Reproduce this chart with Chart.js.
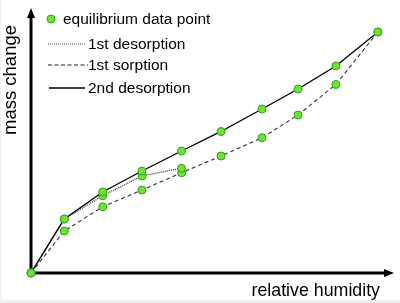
<!DOCTYPE html>
<html>
<head>
<meta charset="utf-8">
<script src="https://cdn.jsdelivr.net/npm/chart.js@4"></script>
<style>
    html, body { margin: 0; padding: 0; background: #fff; }
    #contenedor { width: 400px; height: 303px; }
</style>
</head>
<body>
<div id="contenedor"><canvas id="graficaIsoterma" width="400" height="303"></canvas></div>
<script>
// humedad relativa (eje x, unidades arbitrarias 0-100)
const humedad = [0, 9.5, 20.5, 31.7, 43, 54.3, 66, 76.3, 87.1, 99.1];
// cambio de masa (eje y, unidades arbitrarias 0-100)
const segundaDesorcion = [0, 21.6, 32.4, 40.8, 48.8, 56.6, 65.6, 73.6, 82.8, 96.4];
const primeraSorcion = [0, 16.8, 26.5, 33.2, 40.1, 46.8, 54.1, 63.2, 75.4, 96.4];
const primeraDesorcion = [0, 21.6, 30.9, 38.8, 41.9];

const etiquetasLeyenda = ['equilibrium data point', '1st desorption', '1st sorption', '2nd desorption'];
const tituloX = 'relative humidity';
const tituloY = 'mass change';

const verdePunto = '#66e830';
const bordePunto = '#3f9a22';
const fuente = '"Liberation Sans", Arial, sans-serif';

function aPuntos(xs, ys) {
    return ys.map((y, i) => ({ x: xs[i], y: y }));
}

const estiloPunto = {
    pointRadius: 4,
    pointHoverRadius: 4,
    pointBackgroundColor: verdePunto,
    pointBorderColor: bordePunto,
    pointBorderWidth: 1,
    tension: 0,
    fill: false,
    clip: false
};

const pluginEjes = {
    id: 'ejes',
    beforeDraw(chart) {
        // marco gris claro de la imagen original
        const ctx = chart.ctx;
        ctx.save();
        ctx.fillStyle = '#f1f1f1';
        ctx.fillRect(0, 0, 1, chart.height);
        ctx.fillRect(0, chart.height - 3, chart.width, 3);
        ctx.restore();
    },
    beforeDatasetsDraw(chart) {
        const ctx = chart.ctx;
        const area = chart.chartArea;
        const x0 = chart.scales.x.getPixelForValue(0);
        const y0 = chart.scales.y.getPixelForValue(0);
        const arriba = area.top - 15;
        const derecha = area.right + 13;
        ctx.save();
        ctx.strokeStyle = '#000';
        ctx.fillStyle = '#000';
        ctx.lineWidth = 3;
        ctx.beginPath();
        ctx.moveTo(x0, y0 + 1.5);
        ctx.lineTo(x0, arriba + 8);
        ctx.moveTo(x0 - 1.5, y0);
        ctx.lineTo(derecha - 8, y0);
        ctx.stroke();
        // puntas de flecha
        ctx.beginPath();
        ctx.moveTo(x0, arriba);
        ctx.lineTo(x0 - 4, arriba + 10);
        ctx.lineTo(x0 + 4, arriba + 10);
        ctx.closePath();
        ctx.fill();
        ctx.beginPath();
        ctx.moveTo(derecha, y0);
        ctx.lineTo(derecha - 10, y0 - 4);
        ctx.lineTo(derecha - 10, y0 + 4);
        ctx.closePath();
        ctx.fill();
        ctx.restore();
    },
    afterDraw(chart) {
        const ctx = chart.ctx;
        const area = chart.chartArea;
        ctx.save();
        ctx.fillStyle = '#000';
        // titulos de los ejes
        ctx.font = '17.8px ' + fuente;
        ctx.textBaseline = 'alphabetic';
        ctx.textAlign = 'right';
        ctx.fillText(tituloX, area.right - 1, 296);
        ctx.translate(16, 80);
        ctx.rotate(-Math.PI / 2);
        ctx.textAlign = 'center';
        ctx.font = '18.5px ' + fuente;
        ctx.fillText(tituloY, 0, 0);
        ctx.restore();

        // leyenda
        ctx.save();
        ctx.font = '15.5px ' + fuente;
        ctx.textBaseline = 'middle';
        ctx.textAlign = 'left';
        ctx.beginPath();
        ctx.arc(51, 19, 4, 0, Math.PI * 2);
        ctx.fillStyle = verdePunto;
        ctx.fill();
        ctx.strokeStyle = bordePunto;
        ctx.lineWidth = 1;
        ctx.stroke();
        ctx.fillStyle = '#000';
        ctx.fillText(etiquetasLeyenda[0], 63, 20);

        const filas = [
            { y: 44, dash: [1, 1], color: '#444', ancho: 1.2, x1: 48, x2: 85 },
            { y: 65, dash: [4, 2.5], color: '#222', ancho: 1.2, x1: 48, x2: 88 },
            { y: 88, dash: [], color: '#000', ancho: 1.3, x1: 49, x2: 85 }
        ];
        filas.forEach((f, i) => {
            ctx.beginPath();
            ctx.setLineDash(f.dash);
            ctx.strokeStyle = f.color;
            ctx.lineWidth = f.ancho;
            ctx.moveTo(f.x1, f.y);
            ctx.lineTo(f.x2, f.y);
            ctx.stroke();
            ctx.setLineDash([]);
            ctx.fillText(etiquetasLeyenda[i + 1], 88, f.y + 1);
        });
        ctx.restore();
    }
};

function initChart() {
    const ctx = document.getElementById('graficaIsoterma').getContext('2d');
    new Chart(ctx, {
        type: 'line',
        data: {
            datasets: [
                Object.assign({
                    label: etiquetasLeyenda[3],
                    data: aPuntos(humedad, segundaDesorcion),
                    borderColor: '#000',
                    borderWidth: 1.4
                }, estiloPunto),
                Object.assign({
                    label: etiquetasLeyenda[1],
                    data: aPuntos(humedad, primeraDesorcion),
                    borderColor: '#333',
                    borderWidth: 1.3,
                    borderDash: [1, 1]
                }, estiloPunto),
                Object.assign({
                    label: etiquetasLeyenda[2],
                    data: aPuntos(humedad, primeraSorcion),
                    borderColor: '#333',
                    borderWidth: 1.1,
                    borderDash: [4, 3]
                }, estiloPunto)
            ]
        },
        options: {
            responsive: false,
            animation: false,
            layout: { padding: { left: 31, right: 19, top: 23, bottom: 30 } },
            scales: {
                x: { type: 'linear', display: false, min: 0, max: 100 },
                y: { type: 'linear', display: false, min: 0, max: 100 }
            },
            plugins: {
                legend: { display: false },
                tooltip: { enabled: false }
            }
        },
        plugins: [pluginEjes]
    });
}

document.addEventListener('DOMContentLoaded', initChart);
</script>
</body>
</html>
